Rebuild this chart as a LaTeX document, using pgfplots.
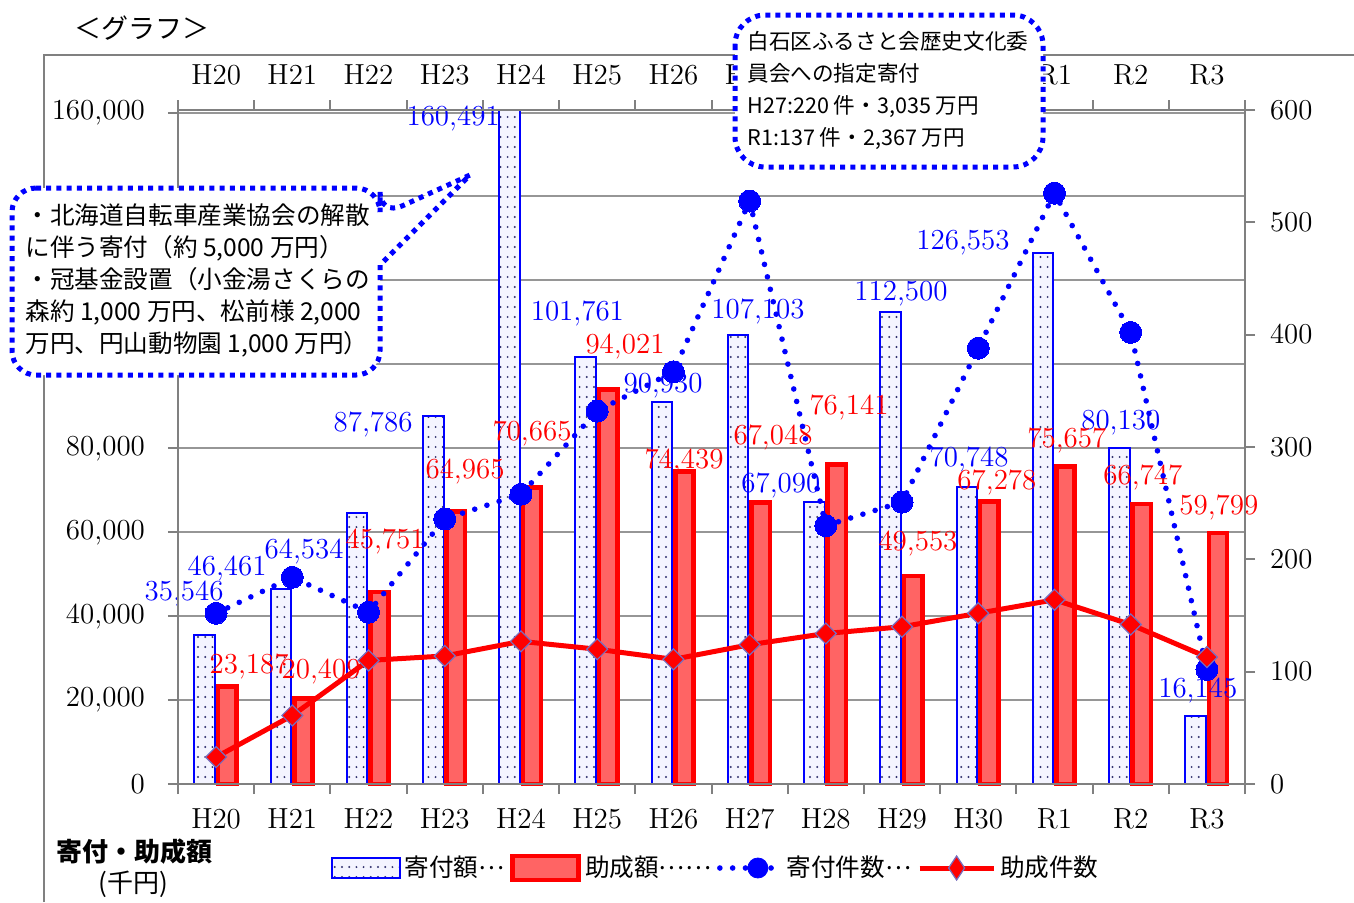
\documentclass[border=0pt]{standalone}
\usepackage{fontspec}
\usepackage{pgfplots}
\pgfplotsset{compat=1.18}
\usetikzlibrary{patterns}
\newfontfamily\jp{Noto Sans CJK JP}
\pgfdeclarepatternformonly{sparsedots}{\pgfqpoint{-1pt}{-1pt}}{\pgfqpoint{4pt}{6pt}}{\pgfqpoint{3.6pt}{5pt}}{%
  \pgfpathcircle{\pgfqpoint{1.8pt}{2.5pt}}{0.55pt}\pgfusepath{fill}}
\definecolor{axgray}{RGB}{128,128,128}
\definecolor{gridgray}{RGB}{150,150,150}
\definecolor{barred}{RGB}{255,100,100}
\definecolor{dotnavy}{RGB}{50,50,110}
\definecolor{barblue}{RGB}{244,244,255}
\definecolor{dedge}{RGB}{120,110,190}
\newcommand{\numfont}{\fontsize{14.5}{17}\selectfont}
\newcommand{\mdots}{\raisebox{0.3em}{…}}
\begin{document}
\begin{tikzpicture}
\path[use as bounding box] (0pt,0pt) rectangle (677pt,-451pt);
\begin{scope}[x=0.5pt,y=-0.5pt]
\draw[axgray, line width=1pt] (44,902) -- (44,55) -- (1354,55);
\end{scope}
\begin{axis}[
  at={(89pt,-392pt)}, anchor=south west,
  scale only axis, width=533.5pt, height=337pt,
  xmin=-0.5, xmax=13.5, ymin=0, ymax=160600,
  clip=false,
  xtick={0,...,13},
  xticklabels={H20,H21,H22,H23,H24,H25,H26,H27,H28,H29,H30,R1,R2,R3},
  minor xtick={-0.5,0.5,...,13.5},
  xtick pos=left, ytick pos=left,
  tick align=outside,
  major x tick style={draw=none},
  minor tick length=5pt, major tick length=5pt,
  ytick={0,20000,...,160000},
  scaled y ticks=false,
  yticklabels={0,{20,000},{40,000},{60,000},{80,000},,,,{160,000}},
  yticklabel style={xshift=-8pt},
  xticklabel style={yshift=-4pt},
  ymajorgrids, grid style={gridgray, line width=1pt},
  axis line style={axgray, line width=1.2pt},
  every tick/.style={axgray, line width=1pt},
  tick label style={font=\numfont},
]
\addplot[ybar, bar width=0.27, bar shift=-0.15, draw=blue, line width=1pt, fill=barblue,
  postaction={pattern=sparsedots, pattern color=dotnavy}] coordinates {
  (0,35546) (1,46461) (2,64534) (3,87786) (4,160491) (5,101761) (6,90930)
  (7,107103) (8,67090) (9,112500) (10,70748) (11,126553) (12,80130) (13,16145)};
\addplot[ybar, bar width=0.24, bar shift=0.145, draw=red, line width=2.3pt, fill=barred] coordinates {
  (0,23187) (1,20409) (2,45751) (3,64965) (4,70665) (5,94021) (6,74439)
  (7,67048) (8,76141) (9,49553) (10,67278) (11,75657) (12,66747) (13,59799)};
\begin{scope}[every node/.style={font=\numfont, inner sep=0pt}]
\node[text=blue] at (axis cs:-0.42,45476) {35,546};
\node[text=blue] at (axis cs:0.144,51430) {46,461};
\node[text=blue] at (axis cs:1.154,55476) {64,534};
\node[text=blue] at (axis cs:2.06,85714) {87,786};
\node[text=blue] at (axis cs:3.11,158571) {160,491};
\node[text=blue] at (axis cs:4.74,112143) {101,761};
\node[text=blue] at (axis cs:5.864,95000) {90,930};
\node[text=blue] at (axis cs:7.11,112619) {107,103};
\node[text=blue] at (axis cs:7.41,71190) {67,090};
\node[text=blue] at (axis cs:8.986,116905) {112,500};
\node[text=blue] at (axis cs:9.88,77400) {70,748};
\node[text=blue] at (axis cs:9.80,129048) {126,553};
\node[text=blue] at (axis cs:11.87,86190) {80,130};
\node[text=blue] at (axis cs:12.88,22381) {16,145};
\node[text=red] at (axis cs:0.433,28095) {23,187};
\node[text=red] at (axis cs:1.377,26905) {20,409};
\node[text=red] at (axis cs:2.217,57857) {45,751};
\node[text=red] at (axis cs:3.266,74524) {64,965};
\node[text=red] at (axis cs:4.145,83571) {70,665};
\node[text=red] at (axis cs:5.365,104286) {94,021};
\node[text=red] at (axis cs:6.139,76905) {74,439};
\node[text=red] at (axis cs:7.307,82619) {67,048};
\node[text=red] at (axis cs:8.304,89762) {76,141};
\node[text=red] at (axis cs:9.209,57381) {49,553};
\node[text=red] at (axis cs:10.245,71905) {67,278};
\node[text=red] at (axis cs:11.163,81905) {75,657};
\node[text=red] at (axis cs:12.16,73095) {66,747};
\node[text=red] at (axis cs:13.157,65952) {59,799};
\end{scope}
\end{axis}
\begin{axis}[
  at={(89pt,-392pt)}, anchor=south west,
  scale only axis, width=533.5pt, height=337pt,
  xmin=-0.5, xmax=13.5, ymin=0, ymax=600,
  xtick={0,...,13},
  xticklabels={H20,H21,H22,H23,H24,H25,H26,H27,,,,R1,R2,R3},
  minor xtick={-0.5,0.5,...,13.5},
  xtick pos=right, xticklabel pos=right,
  ytick pos=right, yticklabel pos=right,
  ytick={0,100,...,600},
  xticklabel style={yshift=4pt},
  yticklabel style={xshift=4pt},
  tick align=outside,
  major x tick style={draw=none},
  minor tick length=5pt, major tick length=5pt,
  axis line style={axgray, line width=1.2pt},
  every tick/.style={axgray, line width=1pt},
  tick label style={font=\numfont},
  legend columns=4,
  legend cell align=left,
  legend style={at={(0.5047,-0.1246)}, anchor=center, draw=none, fill=none,
    font=\jp\fontsize{12.3}{14}\selectfont, inner sep=0pt,
    /tikz/every even column/.append style={column sep=1pt}},
]
\addlegendimage{legend image code/.code={\draw[blue, line width=1pt, fill=barblue, postaction={pattern=sparsedots, pattern color=dotnavy}] (0pt,-5pt) rectangle (34pt,5pt);}}
\addlegendentry{寄付額\mdots}
\addlegendimage{legend image code/.code={\draw[red, line width=2.4pt, fill=barred] (1pt,-6pt) rectangle (34pt,6pt);}}
\addlegendentry{助成額\mdots\mdots}
\addlegendimage{legend image code/.code={\draw[blue, line width=2.8pt, dash pattern=on 0pt off 6.4pt, line cap=round] (0pt,0pt) -- (30pt,0pt); \fill[blue] (19pt,0pt) circle (5pt);}}
\addlegendentry{寄付件数\mdots}
\addlegendimage{legend image code/.code={\draw[red, line width=2.5pt] (0pt,0pt) -- (37pt,0pt); \draw[fill=red, draw=dedge, line width=0.6pt] (18.5pt,6pt) -- (22.5pt,0pt) -- (18.5pt,-6pt) -- (14.5pt,0pt) -- cycle;}}
\addlegendentry{助成件数}
\addplot[forget plot, blue, line width=2.8pt, dash pattern=on 0pt off 6.4pt, line cap=round,
  mark=*, mark size=5.5pt, mark options={solid, fill=blue, draw=blue, line width=0pt}] coordinates {
  (0,152) (1,184) (2,153) (3,236) (4,258) (5,332) (6,367)
  (7,519) (8,230) (9,251) (10,388) (11,526) (12,402) (13,102)};
\addplot[forget plot, red, line width=2.5pt,
  mark=square*, mark size=3.7pt, mark options={rotate=45, fill=red, draw=dedge, line width=0.6pt}] coordinates {
  (0,24) (1,61) (2,110) (3,114) (4,127) (5,120) (6,111)
  (7,124) (8,134) (9,140) (10,152) (11,164) (12,142) (13,113)};
\end{axis}
\begin{scope}[x=0.5pt,y=-0.5pt]
\draw[blue, line width=2.5pt, dash pattern=on 2.5pt off 2.6pt, fill=white, rounded corners=12pt]
  (12,188) -- (380,188) -- (380,216) [sharp corners] -- (470,175) -- (380,265) [rounded corners=12pt] -- (380,375) -- (12,375) -- cycle;
\node[anchor=north west, align=left, font=\jp\fontsize{12.3}{16}\selectfont, inner sep=0pt] at (25,203)
  {・北海道自転車産業協会の解散\\に伴う寄付（約 5,000 万円）\\・冠基金設置（小金湯さくらの\\森約 1,000 万円、松前様 2,000\\万円、円山動物園 1,000 万円）};
\draw[blue, line width=2.5pt, dash pattern=on 2.5pt off 2.6pt, fill=white, rounded corners=15pt]
  (735,15) rectangle (1043,167);
\node[anchor=north west, align=left, font=\jp\fontsize{10.8}{16}\selectfont, inner sep=0pt] at (747,31)
  {白石区ふるさと会歴史文化委\\員会への指定寄付\\H27:220 件・3,035 万円\\R1:137 件・2,367 万円};
\node[font=\jp\fontsize{13.5}{16}\selectfont] at (142,28) {＜グラフ＞};
\node[font=\jp\bfseries\fontsize{13}{16}\selectfont] at (134,852) {寄付・助成額};
\node[font=\jp\fontsize{13}{16}\selectfont] at (133,884) {(千円)};
\end{scope}
\end{tikzpicture}
\end{document}
